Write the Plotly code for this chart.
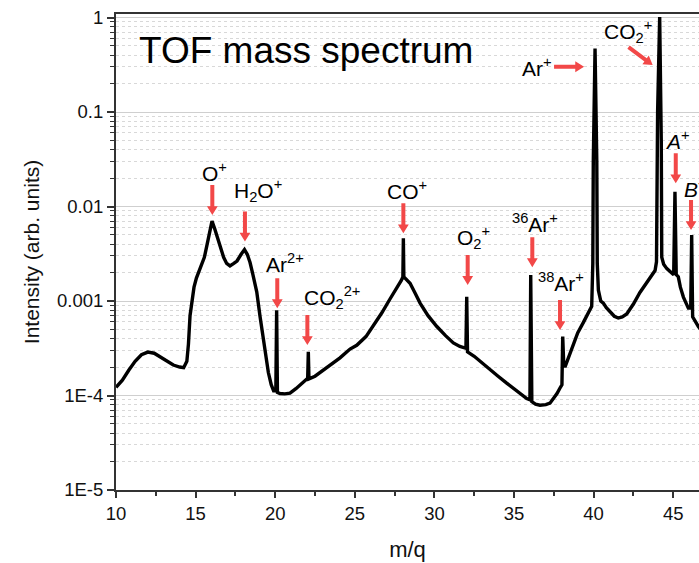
import plotly.graph_objects as go
import numpy as np

# ---- data ----
mq = [10.00, 10.40, 10.80, 11.20, 11.60, 12.00, 12.40, 12.80, 13.20, 13.60, 14.00, 14.25,
      14.45, 14.55, 14.65, 14.78, 14.90, 15.05, 15.20, 15.40, 15.55, 15.70, 15.85, 16.03,
      16.20, 16.43, 16.60, 16.76, 16.95, 17.16, 17.40, 17.60, 17.85, 18.07, 18.25, 18.42,
      18.60, 18.84, 19.05, 19.25, 19.42, 19.57, 19.75, 19.90, 20.04, 20.09, 20.14, 20.30,
      20.60, 20.93, 21.30, 21.77, 22.04, 22.08, 22.12, 22.50, 23.00, 23.50, 24.07, 24.70,
      25.12, 25.70, 26.16, 26.70, 27.21, 27.50, 27.73, 27.92, 28.02, 28.05, 28.08, 28.20,
      28.47, 28.80, 29.10, 29.60, 30.14, 30.70, 31.19, 31.60, 31.98, 32.03, 32.08, 32.50,
      33.00, 33.49, 34.00, 34.54, 35.20, 35.80, 36.00, 36.05, 36.12, 36.35, 36.63, 37.00,
      37.26, 37.50, 37.70, 37.89, 38.01, 38.06, 38.12, 38.20, 38.45, 38.72, 39.00, 39.35,
      39.65, 39.88, 39.95, 39.98, 40.09, 40.20, 40.23, 40.30, 40.45, 40.61, 40.80, 41.03,
      41.30, 41.55, 41.80, 42.08, 42.50, 42.91, 43.40, 43.86, 43.95, 43.98, 44.02, 44.15,
      44.25, 44.28, 44.40, 44.60, 44.90, 45.03, 45.11, 45.19, 45.32, 45.45, 45.64, 45.80,
      45.95, 46.10, 46.16, 46.22, 46.40, 46.57, 47.00]
intensity = [1.22e-4, 1.45e-4, 1.85e-4, 2.3e-4, 2.7e-4, 2.88e-4, 2.8e-4, 2.55e-4, 2.3e-4, 2.1e-4, 2.0e-4, 1.97e-4,
             2.3e-4, 3.5e-4, 7.0e-4, 1.1e-3, 1.4e-3, 1.75e-3, 2.05e-3, 2.4e-3, 2.9e-3, 3.8e-3, 5.0e-3, 7.0e-3,
             5.8e-3, 4.4e-3, 3.4e-3, 2.9e-3, 2.5e-3, 2.35e-3, 2.5e-3, 2.65e-3, 3.1e-3, 3.5e-3, 3.1e-3, 2.55e-3,
             1.9e-3, 1.25e-3, 6.8e-4, 3.9e-4, 2.5e-4, 1.75e-4, 1.3e-4, 1.12e-4, 1.12e-4, 8.0e-4, 1.08e-4, 1.05e-4,
             1.04e-4, 1.06e-4, 1.18e-4, 1.4e-4, 1.52e-4, 2.9e-4, 1.5e-4, 1.6e-4, 1.85e-4, 2.15e-4, 2.5e-4, 3.1e-4,
             3.4e-4, 4.2e-4, 5.4e-4, 7.5e-4, 1.05e-3, 1.25e-3, 1.42e-3, 1.65e-3, 1.8e-3, 4.6e-3, 1.8e-3, 1.7e-3,
             1.54e-3, 1.2e-3, 9.5e-4, 7.0e-4, 5.4e-4, 4.3e-4, 3.6e-4, 3.3e-4, 3.16e-4, 1.11e-3, 2.9e-4, 2.6e-4,
             2.2e-4, 1.86e-4, 1.6e-4, 1.35e-4, 1.1e-4, 9.3e-5, 9.0e-5, 1.88e-3, 8.6e-5, 8.1e-5, 7.9e-5, 8.0e-5,
             8.3e-5, 9.3e-5, 1.05e-4, 1.2e-4, 1.3e-4, 4.2e-4, 2.2e-4, 2.0e-4, 2.6e-4, 3.6e-4, 4.6e-4, 5.9e-4,
             7.3e-4, 8.8e-4, 2.5e-3, 3.0e-2, 0.47, 3.0e-2, 2.5e-3, 1.3e-3, 1.0e-3, 9.5e-4, 8.5e-4, 7.8e-4,
             6.9e-4, 6.6e-4, 6.8e-4, 7.3e-4, 9.3e-4, 1.23e-3, 1.6e-3, 2.1e-3, 2.6e-3, 2.0e-2, 0.1, 1.01,
             5.0e-2, 2.9e-3, 2.45e-3, 2.2e-3, 1.96e-3, 1.9e-3, 1.43e-2, 1.9e-3, 1.8e-3, 1.4e-3, 1.1e-3, 9.3e-4,
             8.4e-4, 8.4e-4, 5.0e-3, 6.8e-4, 6.0e-4, 5.4e-4, 4.3e-4]

y_tickvals = [1e-5, 1e-4, 1e-3, 1e-2, 1e-1, 1]
y_ticktext = ["1E-5", "1E-4", "0.001", "0.01", "0.1", "1"]

# annotation labels: (text, x m/q, log10 y)
labels = [
    ("O<sup>+</sup>", 16.16, -1.632),
    ("H<sub>2</sub>O<sup>+</sup>", 18.95, -1.830),
    ("Ar<sup>2+</sup>", 20.63, -2.598),
    ("CO<sub>2</sub><sup>2+</sup>", 23.57, -2.968),
    ("CO<sup>+</sup>", 28.26, -1.825),
    ("O<sub>2</sub><sup>+</sup>", 32.43, -2.333),
    ("<sup>36</sup>Ar<sup>+</sup>", 36.33, -2.178),
    ("<sup>38</sup>Ar<sup>+</sup>", 37.94, -2.796),
    ("Ar<sup>+</sup>", 36.43, -0.521),
    ("CO<sub>2</sub><sup>+</sup>", 42.16, -0.150),
    ("<i>A</i><sup>+</sup>", 45.28, -1.296),
]
# arrows: tip position (m/q, intensity) and direction in screen pixels (dx right, dy down)
arrow_tip_x = [16.05, 18.10, 20.13, 22.02, 28.05, 32.09, 36.15, 37.89, 39.40, 43.71, 45.16, 46.12]
arrow_tip_y = [8.13e-3, 4.25e-3, 8.4e-4, 3.42e-4, 5.2e-3, 1.48e-3, 2.28e-3, 4.93e-4, 0.301, 0.314, 1.76e-2, 5.64e-3]
arrow_dir = [(0, 1)] * 8 + [(1, 0), (29.4, 21.7)] + [(0, 1)] * 2

FONT = "Liberation Sans, Arial, sans-serif"
ARROW = "#f24848"

fig = go.Figure()
fig.add_trace(go.Scatter(x=mq, y=intensity, mode="lines",
                         line=dict(color="black", width=3.4), showlegend=False,
                         hoverinfo="skip"))

ann = []
for t, x, y in labels:
    ann.append(dict(text=t, x=x, y=y, xref="x", yref="y", showarrow=False,
                    font=dict(family=FONT, size=21, color="black"),
                    xanchor="center", yanchor="middle"))
ann.append(dict(text="<i>B</i><sup>+</sup>", x=45.55, y=-1.804, xref="x", yref="y",
                showarrow=False, font=dict(family=FONT, size=21, color="black"),
                xanchor="left", yanchor="middle"))
ann.append(dict(text="TOF mass spectrum", x=11.3, y=-0.344, xref="x", yref="y",
                showarrow=False, xanchor="left", yanchor="middle",
                font=dict(family=FONT, size=37, color="black")))

# arrow glyph (pixels): pointing +x, tip at origin
L, HL, HW, SW = 30.0, 8.8, 5.4, 2.0
glyph = np.array([(0, 0), (-HL, HW), (-HL, SW), (-L, SW), (-L, -SW), (-HL, -SW), (-HL, -HW)])

shapes = []
for tx, ty, (dx, dy) in zip(arrow_tip_x, arrow_tip_y, arrow_dir):
    n = np.hypot(dx, dy)
    ux, uy = dx / n, -dy / n  # shape pixel y axis points up
    pts = [(px * ux - py * uy, px * uy + py * ux) for px, py in glyph]
    path = "M" + " L".join(f"{a:.2f},{b:.2f}" for a, b in pts) + " Z"
    shapes.append(dict(type="path", xref="x", yref="y", xsizemode="pixel", ysizemode="pixel",
                       xanchor=tx, yanchor=ty, path=path, fillcolor=ARROW,
                       line=dict(width=0), layer="above"))

fig.update_layout(
    width=699, height=563,
    margin=dict(l=116, r=0, t=14, b=73),
    paper_bgcolor="white", plot_bgcolor="white",
    font=dict(family=FONT, color="#111"),
    annotations=ann, shapes=shapes,
)
fig.update_xaxes(
    range=[10, 46.62], tick0=0, dtick=5, ticks="outside", ticklen=6, tickwidth=1.5,
    tickcolor="#333", showline=True, linecolor="#333", linewidth=2, mirror=True,
    showgrid=False, zeroline=False,
    minor=dict(ticks="outside", ticklen=4, tickwidth=1.5, tickcolor="#333", dtick=2.5, tick0=0),
    tickfont=dict(family=FONT, size=18.5, color="#111"),
    title=dict(text="m/q", font=dict(family=FONT, size=22, color="#111"), standoff=18),
)
fig.update_yaxes(
    type="log", range=[-5, 0.037], tickmode="array", tickvals=y_tickvals, ticktext=y_ticktext,
    ticks="outside", ticklen=7, tickwidth=1.5, tickcolor="#333",
    showline=True, linecolor="#333", linewidth=2,
    showgrid=True, gridcolor="#cfcfcf", gridwidth=1, zeroline=False,
    minor=dict(ticks="outside", ticklen=4, tickwidth=1.2, tickcolor="#333", dtick="D1",
               showgrid=True, gridcolor="#d8d8d8", griddash="dot", gridwidth=1),
    tickfont=dict(family=FONT, size=18.5, color="#111"),
    title=dict(text="Intensity (arb. units)", font=dict(family=FONT, size=21, color="#111"), standoff=12),
)

fig.write_html("out.html")
